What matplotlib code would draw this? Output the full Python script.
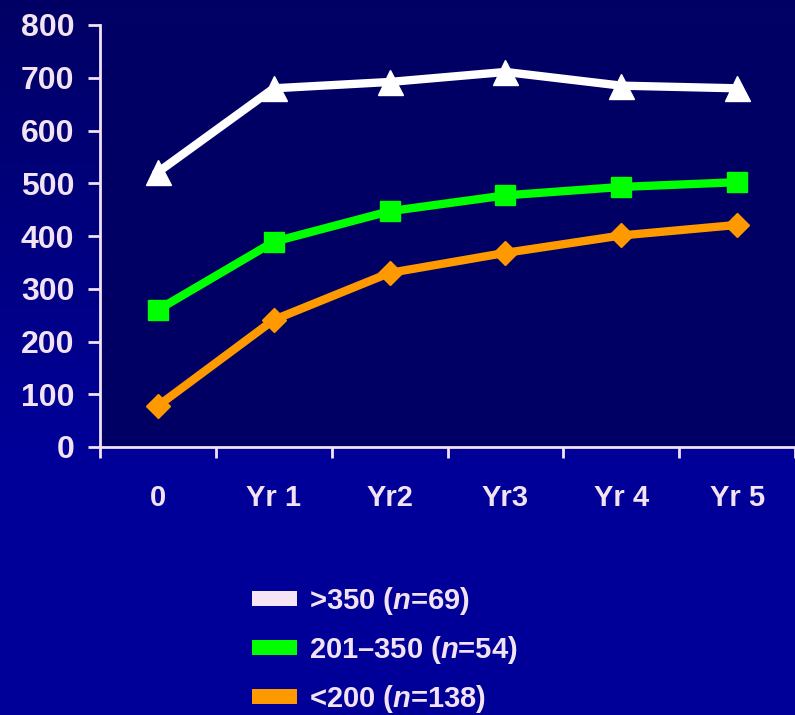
import numpy as np
import matplotlib
matplotlib.use('Agg')
import matplotlib.pyplot as plt
from matplotlib.patches import Patch

plt.rcParams['font.family'] = ['Liberation Sans', 'DejaVu Sans']
plt.rcParams['font.weight'] = 'bold'
plt.rcParams['mathtext.fontset'] = 'custom'
plt.rcParams['mathtext.it'] = 'Liberation Sans:bold:italic'
plt.rcParams['mathtext.rm'] = 'Liberation Sans:bold'

# CD4 counts over time, grouped by baseline count
timepoints = ['0', 'Yr 1', 'Yr2', 'Yr3', 'Yr 4', 'Yr 5']
high_group = [521, 680, 692, 711, 685, 680]
mid_group = [260, 389, 447, 477, 493, 502]
low_group = [78, 241, 330, 368, 401, 421]
group_labels = ['>350 ($n$=69)', '201\u2013350 ($n$=54)', '<200 ($n$=138)']

TEXT_COLOR = '#F2E2F2'
PLOT_BG = '#000064'

fig = plt.figure(figsize=(7.95, 7.15), dpi=100)
fig.patch.set_facecolor('#000098')

# slide background: dark navy at the top fading to a brighter blue lower down
bg = fig.add_axes([0, 0, 1, 1], zorder=-10)
rows = np.linspace(0, 1, 512)
shade = np.clip(rows / 0.62, 0, 1).reshape(-1, 1)
bg_cmap = matplotlib.colors.LinearSegmentedColormap.from_list('bg', ['#000064', '#000098'])
bg.imshow(shade, aspect='auto', extent=[0, 1, 0, 1], origin='upper', cmap=bg_cmap)
bg.axis('off')

ax = fig.add_axes([100 / 795, (715 - 447) / 715, 1 - 100 / 795, (447 - 25) / 715])
ax.set_facecolor(PLOT_BG)

x = np.arange(len(timepoints))
ax.plot(x, high_group, color='white', lw=6, marker='^', markersize=18, clip_on=False, zorder=3)
ax.plot(x, mid_group, color='#00FF00', lw=6, marker='s', markersize=14.5, clip_on=False, zorder=3)
ax.plot(x, low_group, color='#FF9900', lw=6, marker='D', markersize=12.5, clip_on=False, zorder=3)

ax.set_xlim(-0.5, len(timepoints) - 0.5)
ax.set_ylim(0, 800)
ax.set_yticks(range(0, 801, 100))
ax.set_xticks(x)
ax.set_xticklabels(timepoints)
ax.set_xticks(np.arange(-0.5, len(timepoints), 1.0), minor=True)

for side in ['top', 'right']:
    ax.spines[side].set_visible(False)
for side in ['left', 'bottom']:
    ax.spines[side].set_color(TEXT_COLOR)
    ax.spines[side].set_linewidth(2)

ax.tick_params(axis='y', colors=TEXT_COLOR, labelsize=23, length=8.5, width=2, pad=10)
ax.tick_params(axis='x', which='major', colors=TEXT_COLOR, labelsize=21, length=0, pad=27)
ax.tick_params(axis='x', which='minor', color=TEXT_COLOR, length=8, width=2)

handles = [Patch(facecolor=c, edgecolor='none') for c in ['#F4E4F4', '#00FF00', '#FF9900']]
fig.legend(handles, group_labels, loc='center left', bbox_to_anchor=(252 / 795, 65 / 715),
           frameon=False, fontsize=21, handlelength=1.55, handleheight=0.42,
           handletextpad=0.4, labelspacing=0.58, borderpad=0, borderaxespad=0,
           labelcolor=TEXT_COLOR)

fig.savefig('out.png', dpi=100, facecolor=fig.get_facecolor())
